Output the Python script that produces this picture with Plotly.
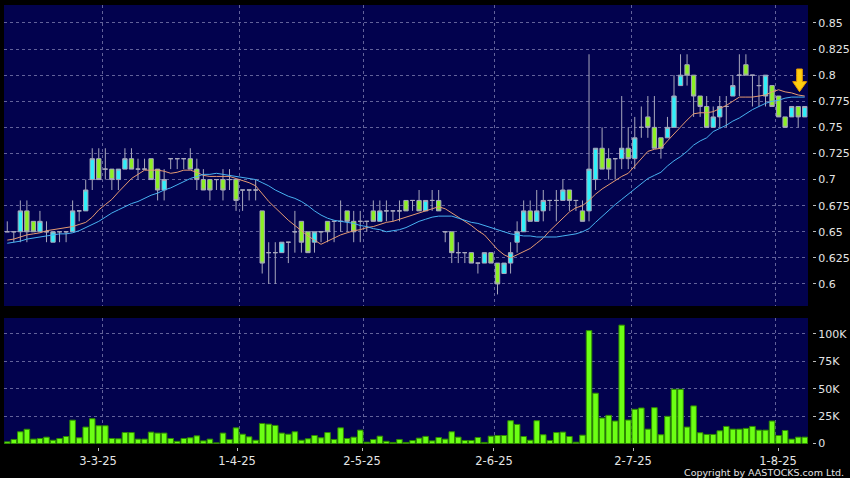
import pandas as pd
import plotly.graph_objects as go

# ---------------- data ----------------
HK_HOLIDAYS = ["2025-04-04", "2025-04-18", "2025-04-21", "2025-05-01", "2025-05-05", "2025-07-01"]
dates = [d.strftime("%Y-%m-%d") for d in pd.bdate_range("2025-02-10", "2025-08-07")
         if d.strftime("%Y-%m-%d") not in HK_HOLIDAYS]

open_ = [0.65, 0.65, 0.65, 0.67, 0.66, 0.65, 0.65, 0.64, 0.65, 0.65,
         0.65, 0.67, 0.67, 0.70, 0.72, 0.71, 0.71, 0.70, 0.71, 0.72,
         0.71, 0.71, 0.72, 0.71, 0.69, 0.72, 0.72, 0.72, 0.72, 0.71,
         0.70, 0.70, 0.70, 0.70, 0.70, 0.70, 0.69, 0.69, 0.69, 0.67,
         0.63, 0.63, 0.63, 0.64, 0.65, 0.66, 0.65, 0.64, 0.65, 0.66,
         0.66, 0.66, 0.67, 0.66, 0.66, 0.66, 0.67, 0.66, 0.67, 0.67,
         0.67, 0.68, 0.68, 0.68, 0.67, 0.68, 0.68, 0.65, 0.65, 0.63,
         0.63, 0.63, 0.62, 0.62, 0.63, 0.62, 0.61, 0.62, 0.64, 0.65,
         0.67, 0.66, 0.67, 0.68, 0.68, 0.68, 0.69, 0.68, 0.67, 0.67,
         0.70, 0.73, 0.72, 0.72, 0.72, 0.73, 0.72, 0.75, 0.76, 0.75,
         0.74, 0.74, 0.75, 0.79, 0.81, 0.80, 0.78, 0.77, 0.75, 0.76,
         0.77, 0.78, 0.80, 0.81, 0.80, 0.79, 0.78, 0.79, 0.78, 0.76,
         0.76, 0.77, 0.76]
high = [0.66, 0.65, 0.68, 0.68, 0.66, 0.67, 0.66, 0.65, 0.65, 0.65,
        0.68, 0.67, 0.70, 0.73, 0.73, 0.73, 0.71, 0.71, 0.73, 0.73,
        0.72, 0.72, 0.72, 0.71, 0.71, 0.72, 0.72, 0.72, 0.73, 0.72,
        0.71, 0.70, 0.70, 0.71, 0.71, 0.70, 0.69, 0.69, 0.70, 0.67,
        0.64, 0.64, 0.64, 0.64, 0.67, 0.66, 0.65, 0.65, 0.65, 0.66,
        0.66, 0.68, 0.67, 0.67, 0.67, 0.66, 0.68, 0.68, 0.68, 0.67,
        0.68, 0.68, 0.68, 0.69, 0.68, 0.69, 0.69, 0.65, 0.65, 0.64,
        0.63, 0.63, 0.62, 0.63, 0.63, 0.62, 0.62, 0.64, 0.66, 0.68,
        0.68, 0.69, 0.69, 0.68, 0.69, 0.70, 0.69, 0.68, 0.68, 0.82,
        0.73, 0.75, 0.73, 0.72, 0.78, 0.75, 0.76, 0.77, 0.78, 0.78,
        0.74, 0.76, 0.80, 0.82, 0.82, 0.80, 0.78, 0.78, 0.77, 0.78,
        0.78, 0.80, 0.82, 0.82, 0.80, 0.80, 0.80, 0.79, 0.78, 0.76,
        0.77, 0.77, 0.77]
low = [0.65, 0.64, 0.64, 0.64, 0.65, 0.65, 0.64, 0.64, 0.64, 0.64,
       0.65, 0.66, 0.67, 0.69, 0.70, 0.70, 0.69, 0.69, 0.71, 0.71,
       0.70, 0.71, 0.70, 0.68, 0.68, 0.71, 0.71, 0.71, 0.71, 0.69,
       0.69, 0.68, 0.69, 0.68, 0.69, 0.67, 0.67, 0.68, 0.68, 0.61,
       0.60, 0.60, 0.63, 0.62, 0.63, 0.63, 0.63, 0.63, 0.64, 0.64,
       0.64, 0.65, 0.65, 0.64, 0.64, 0.65, 0.66, 0.66, 0.66, 0.66,
       0.66, 0.67, 0.67, 0.67, 0.67, 0.67, 0.67, 0.64, 0.62, 0.62,
       0.62, 0.62, 0.61, 0.62, 0.62, 0.59, 0.61, 0.61, 0.63, 0.65,
       0.66, 0.66, 0.66, 0.67, 0.66, 0.68, 0.67, 0.67, 0.66, 0.66,
       0.69, 0.71, 0.70, 0.70, 0.71, 0.71, 0.71, 0.74, 0.74, 0.73,
       0.72, 0.74, 0.75, 0.79, 0.79, 0.76, 0.76, 0.75, 0.75, 0.75,
       0.75, 0.78, 0.78, 0.80, 0.77, 0.77, 0.77, 0.77, 0.76, 0.75,
       0.76, 0.75, 0.76]
close = [0.65, 0.65, 0.67, 0.65, 0.65, 0.66, 0.65, 0.65, 0.65, 0.65,
         0.67, 0.67, 0.69, 0.72, 0.70, 0.71, 0.70, 0.71, 0.72, 0.71,
         0.71, 0.71, 0.70, 0.69, 0.70, 0.72, 0.72, 0.72, 0.71, 0.70,
         0.69, 0.69, 0.70, 0.69, 0.70, 0.68, 0.69, 0.69, 0.69, 0.62,
         0.63, 0.63, 0.64, 0.64, 0.65, 0.64, 0.63, 0.65, 0.65, 0.65,
         0.66, 0.66, 0.66, 0.65, 0.66, 0.66, 0.66, 0.67, 0.67, 0.67,
         0.67, 0.67, 0.68, 0.67, 0.68, 0.68, 0.67, 0.65, 0.63, 0.63,
         0.63, 0.62, 0.62, 0.63, 0.62, 0.60, 0.62, 0.63, 0.65, 0.67,
         0.66, 0.67, 0.68, 0.68, 0.68, 0.69, 0.68, 0.68, 0.66, 0.71,
         0.73, 0.71, 0.71, 0.72, 0.73, 0.72, 0.74, 0.75, 0.75, 0.73,
         0.73, 0.75, 0.78, 0.80, 0.80, 0.78, 0.77, 0.75, 0.76, 0.77,
         0.77, 0.79, 0.80, 0.80, 0.80, 0.79, 0.80, 0.77, 0.76, 0.75,
         0.77, 0.76, 0.77]
volume = [1500, 3700, 10700, 13000, 4000, 4600, 5800, 3000, 4600, 6400,
          21300, 5200, 15000, 22600, 16200, 16200, 4600, 4300, 10000, 10000,
          4000, 4000, 10400, 9500, 9500, 4600, 2000, 4600, 5200, 7000,
          2400, 4000, 600, 9500, 3700, 14300, 8500, 6100, 3000, 18300,
          17700, 16500, 9500, 8500, 10700, 3000, 4300, 7300, 5200, 10000,
          3700, 14300, 4600, 5800, 12200, 1200, 3700, 6700, 2000, 1000,
          3700, 1000, 2700, 4900, 6500, 2400, 5500, 4000, 10700, 5800,
          2800, 2800, 5500, 1000, 6700, 7300, 7300, 20800, 17400, 6400,
          3000, 20800, 8000, 2800, 10000, 10400, 6400, 1200, 7600, 103000,
          45900, 23200, 25700, 20500, 108000, 21400, 31200, 32400, 13100, 32700,
          8000, 24800, 49500, 49500, 15000, 34300, 9800, 8300, 8300, 11600,
          15600, 13100, 13100, 13800, 15600, 12200, 12200, 20500, 7300, 11900,
          4000, 5800, 5800]
ma_short = [0.642, 0.643, 0.645, 0.647, 0.648, 0.649, 0.651, 0.652, 0.653, 0.654,
            0.655, 0.657, 0.659, 0.664, 0.671, 0.676, 0.681, 0.688, 0.695, 0.701,
            0.705, 0.709, 0.709, 0.709, 0.708, 0.706, 0.707, 0.709, 0.709, 0.707,
            0.704, 0.703, 0.703, 0.703, 0.703, 0.701, 0.699, 0.697, 0.694, 0.686,
            0.679, 0.673, 0.667, 0.661, 0.656, 0.651, 0.646, 0.642, 0.638, 0.641,
            0.644, 0.647, 0.649, 0.651, 0.652, 0.654, 0.655, 0.657, 0.659, 0.660,
            0.662, 0.664, 0.666, 0.668, 0.670, 0.672, 0.674, 0.672, 0.668, 0.664,
            0.660, 0.656, 0.651, 0.647, 0.640, 0.633, 0.628, 0.625, 0.628, 0.631,
            0.634, 0.639, 0.644, 0.651, 0.657, 0.663, 0.669, 0.673, 0.675, 0.680,
            0.686, 0.691, 0.695, 0.699, 0.703, 0.706, 0.713, 0.720, 0.727, 0.729,
            0.730, 0.737, 0.744, 0.750, 0.757, 0.763, 0.764, 0.764, 0.765, 0.768,
            0.771, 0.775, 0.779, 0.779, 0.779, 0.780, 0.781, 0.784, 0.786, 0.784,
            0.783, 0.781, 0.780]
ma_long = [0.639, 0.640, 0.641, 0.643, 0.644, 0.645, 0.646, 0.647, 0.648, 0.648,
           0.649, 0.651, 0.654, 0.657, 0.660, 0.664, 0.668, 0.671, 0.674, 0.677,
           0.679, 0.682, 0.685, 0.687, 0.690, 0.692, 0.695, 0.698, 0.701, 0.703,
           0.705, 0.705, 0.706, 0.705, 0.704, 0.703, 0.702, 0.701, 0.700, 0.697,
           0.694, 0.690, 0.687, 0.684, 0.682, 0.679, 0.675, 0.670, 0.666, 0.663,
           0.661, 0.660, 0.659, 0.658, 0.656, 0.655, 0.653, 0.652, 0.650, 0.651,
           0.652, 0.654, 0.657, 0.660, 0.662, 0.664, 0.665, 0.665, 0.665, 0.663,
           0.661, 0.659, 0.658, 0.656, 0.654, 0.652, 0.650, 0.648, 0.647, 0.646,
           0.646, 0.645, 0.645, 0.645, 0.645, 0.646, 0.647, 0.648, 0.650, 0.653,
           0.659, 0.665, 0.670, 0.676, 0.681, 0.686, 0.691, 0.696, 0.701, 0.704,
           0.707, 0.713, 0.718, 0.722, 0.727, 0.733, 0.737, 0.740, 0.746, 0.749,
           0.752, 0.756, 0.759, 0.763, 0.767, 0.770, 0.773, 0.775, 0.776, 0.778,
           0.779, 0.779, 0.779]

tick_dates = ["2025-03-03", "2025-04-01", "2025-05-02", "2025-06-02", "2025-07-02", "2025-08-01"]
tick_labels = ["3-3-25", "1-4-25", "2-5-25", "2-6-25", "2-7-25", "1-8-25"]
price_ticks = [0.6, 0.625, 0.65, 0.675, 0.7, 0.725, 0.75, 0.775, 0.8, 0.825, 0.85]
price_labels = ["0.6", "0.625", "0.65", "0.675", "0.7", "0.725", "0.75", "0.775", "0.8", "0.825", "0.85"]
volume_ticks = [0, 25000, 50000, 75000, 100000]
volume_labels = ["0", "25K", "50K", "75K", "100K"]

assert len(dates) == len(open_) == len(high) == len(low) == len(close) == len(volume) == len(ma_short) == len(ma_long)

# ---------------- layout helpers ----------------
W, H = 850, 478
ML, MR, MT, MB = 4, 38, 5, 31
PW, PH = W - ML - MR, H - MT - MB           # plot area 808 x 442
XD = (808 - ML) / PW                         # panels end at x=808
def yfrac(py):                               # pixel y -> paper fraction
    return (H - MB - py) / PH

idx = list(range(len(dates)))
grid_pos = [dates.index(d) - 0.5 for d in tick_dates]
label_shift = [-0.62, -0.35, -0.23, -0.04, 0.23, 0.42]   # label offsets vs. grid lines
label_pos = [g + s for g, s in zip(grid_pos, label_shift)]
xr = [-0.5, len(dates) - 0.5]

BG = "#02024e"
GRID = "#62629a"
TXT = "#e4e4e4"
FONT = "DejaVu Sans"

fig = go.Figure()
fig.add_trace(go.Candlestick(
    x=idx, open=open_, high=high, low=low, close=close,
    increasing=dict(line=dict(color="#a8a8bc", width=1), fillcolor="#2ef0fa"),
    decreasing=dict(line=dict(color="#a8a8bc", width=1), fillcolor="#8cf024"),
    whiskerwidth=0, xaxis="x", yaxis="y", showlegend=False, hoverinfo="skip"))
fig.add_trace(go.Scatter(x=idx, y=ma_short, mode="lines", line=dict(color="#e59a72", width=1),
                         xaxis="x", yaxis="y", showlegend=False, hoverinfo="skip"))
fig.add_trace(go.Scatter(x=idx, y=ma_long, mode="lines", line=dict(color="#48b2f2", width=1),
                         xaxis="x", yaxis="y", showlegend=False, hoverinfo="skip"))
fig.add_trace(go.Bar(x=idx, y=volume, xaxis="x2", yaxis="y2", showlegend=False, hoverinfo="skip",
                     marker=dict(color="#6cff14", line=dict(color="#2f8a00", width=1))))

grid_kw = dict(showgrid=True, gridcolor=GRID, gridwidth=1, griddash="3px,3px", zeroline=False, showline=False)
fig.update_layout(
    width=W, height=H, autosize=False,
    margin=dict(l=ML, r=MR, t=MT, b=MB, pad=0),
    paper_bgcolor="#000000", plot_bgcolor=BG,
    font=dict(family=FONT, color=TXT, size=11),
    bargap=0.15, boxgap=0.3, boxgroupgap=0.05,
    xaxis=dict(domain=[0, XD], range=xr, anchor="y", tickvals=grid_pos, showticklabels=False,
               ticks="", rangeslider=dict(visible=False), fixedrange=True, **grid_kw),
    yaxis=dict(domain=[yfrac(306), 1], range=[0.5789, 0.8672], side="right", anchor="free", position=1,
               tickvals=price_ticks, ticktext=price_labels, ticks="outside", ticklen=3, tickcolor="#bcbcbc",
               tickfont=dict(size=11, color=TXT, family=FONT), automargin=False, fixedrange=True, **grid_kw),
    xaxis2=dict(domain=[0, XD], range=xr, anchor="y2", tickvals=grid_pos, showticklabels=False,
                ticks="", fixedrange=True, **grid_kw),
    yaxis2=dict(domain=[yfrac(444), yfrac(318)], range=[-450, 114500], side="right", anchor="free", position=1,
                tickvals=volume_ticks, ticktext=volume_labels, ticks="outside", ticklen=3, tickcolor="#bcbcbc",
                tickfont=dict(size=11, color=TXT, family=FONT), automargin=False, fixedrange=True, **grid_kw),
    xaxis3=dict(overlaying="x2", anchor="free", position=0, range=xr, tickvals=label_pos, ticktext=tick_labels,
                ticks="outside", ticklen=3, tickcolor="#bcbcbc", showgrid=False, zeroline=False, showline=False,
                tickfont=dict(size=11.5, color=TXT, family=FONT), automargin=False, fixedrange=True),
)
# invisible trace to activate xaxis3
fig.add_trace(go.Scatter(x=[xr[0]], y=[None], xaxis="x3", yaxis="y2", showlegend=False, hoverinfo="skip"))

# yellow marker arrow (decoration)
fig.add_shape(type="path", xref="x", yref="y",
              path="M 120.77 0.8059 L 121.63 0.8059 L 121.63 0.7938 L 122.3 0.7938 L 121.2 0.7842 "
                   "L 120.16 0.7938 L 120.77 0.7938 Z",
              fillcolor="#ffcf10", line=dict(color="#e89a00", width=1))

fig.add_annotation(text="Copyright by AASTOCKS.com Ltd.", xref="paper", yref="paper",
                   x=(846 - ML) / PW, y=yfrac(472), xanchor="right", yanchor="middle", showarrow=False,
                   font=dict(size=9.5, color=TXT, family=FONT))

fig.write_html("out.html", include_plotlyjs=True, config={"displayModeBar": False},
               post_script="document.body.style.margin='0';document.body.style.overflow='hidden';")
